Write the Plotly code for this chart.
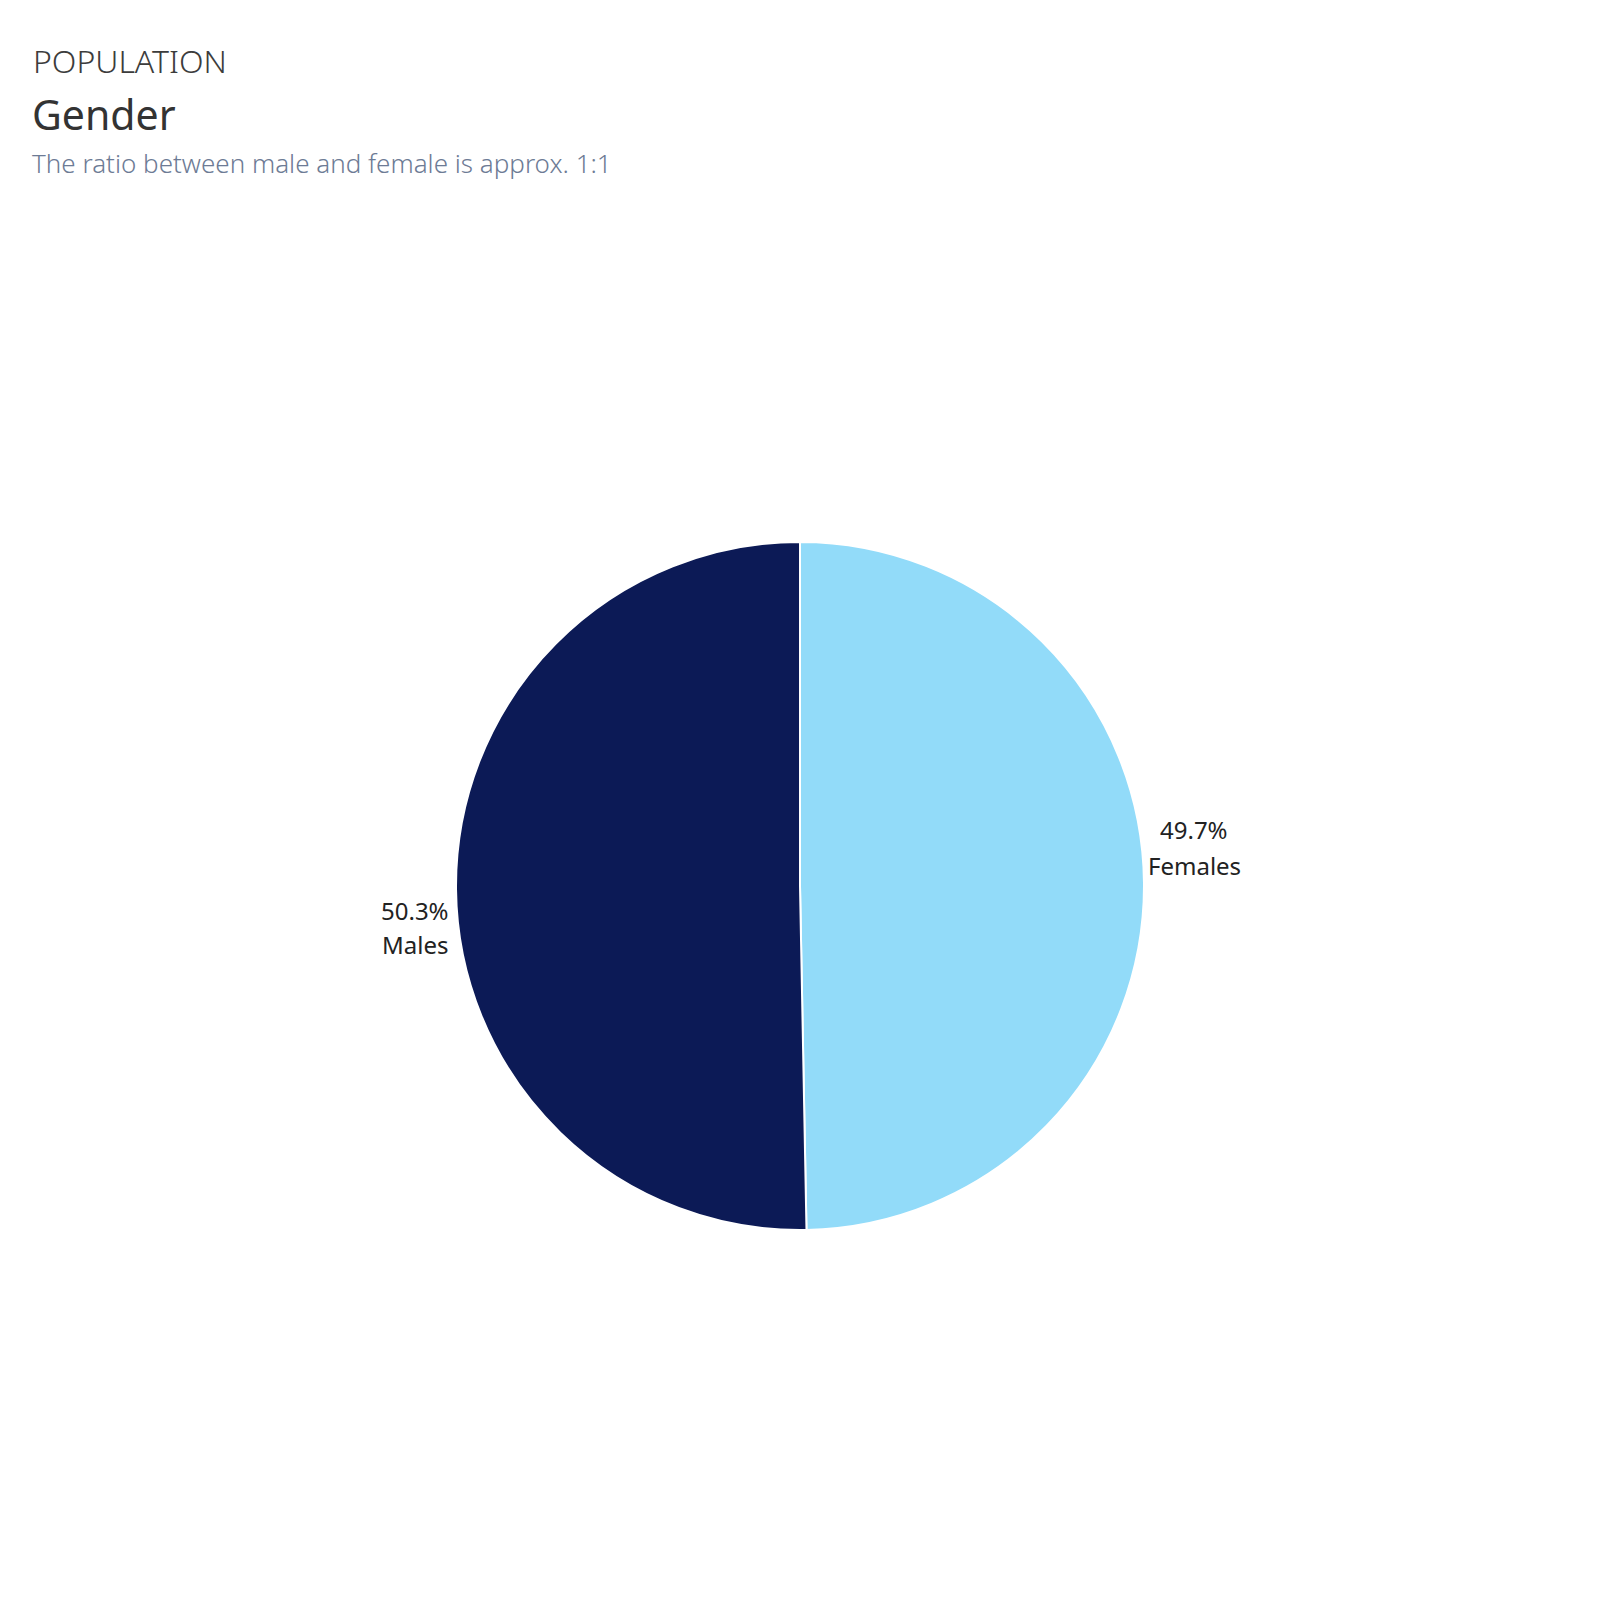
import plotly.graph_objects as go

# data
labels = ['Females', 'Males']
values = [49.7, 50.3]
colors = ['#92dbf9', '#0c1a56']

# label anchor points (pixels) for each slice's text
label_x = [1194, 415]
pct_y = [829, 910]
name_y = [865, 945]

W = H = 1600
PAGE_MARGIN = 8  # default body margin of the html page
font_family = 'Noto Sans'


def px(v):
    return (v - PAGE_MARGIN) / W


def py(v):
    return 1 - (v - PAGE_MARGIN) / H


fig = go.Figure()

fig.add_trace(go.Pie(
    labels=labels,
    values=values,
    sort=False,
    direction='clockwise',
    rotation=0,
    marker=dict(colors=colors, line=dict(color='white', width=2)),
    textinfo='none',
    hoverinfo='label+percent',
    showlegend=False,
    domain=dict(x=[px(456), px(1144)], y=[py(1230), py(542)]),
))

total = sum(values)
annotations = []
for i, lab in enumerate(labels):
    pct = values[i] / total * 100
    annotations.append(dict(
        x=px(label_x[i]), y=py(pct_y[i]), xref='paper', yref='paper',
        text=f'{pct:.1f}%', showarrow=False, xanchor='center', yanchor='middle',
        font=dict(family=font_family, size=24, color='#222222'),
    ))
    annotations.append(dict(
        x=px(label_x[i]), y=py(name_y[i]), xref='paper', yref='paper',
        text=lab, showarrow=False, xanchor='center', yanchor='middle',
        font=dict(family=font_family, size=24, color='#222222'),
    ))

# header texts
annotations += [
    dict(x=px(31), y=py(61), xref='paper', yref='paper', text='POPULATION',
         showarrow=False, xanchor='left', yanchor='middle',
         font=dict(family=font_family, size=32, color='#3c3c3c', weight=300)),
    dict(x=px(30), y=py(114), xref='paper', yref='paper', text='Gender',
         showarrow=False, xanchor='left', yanchor='middle',
         font=dict(family=font_family, size=41, color='#333333', weight=400)),
    dict(x=px(30), y=py(163), xref='paper', yref='paper',
         text='The ratio between male and female is approx. 1:1',
         showarrow=False, xanchor='left', yanchor='middle',
         font=dict(family=font_family, size=26, color='#6d7b95', weight=300)),
]

fig.update_layout(
    width=W, height=H,
    margin=dict(l=0, r=0, t=0, b=0),
    paper_bgcolor='white',
    plot_bgcolor='white',
    annotations=annotations,
)

fig.write_html("out.html")
